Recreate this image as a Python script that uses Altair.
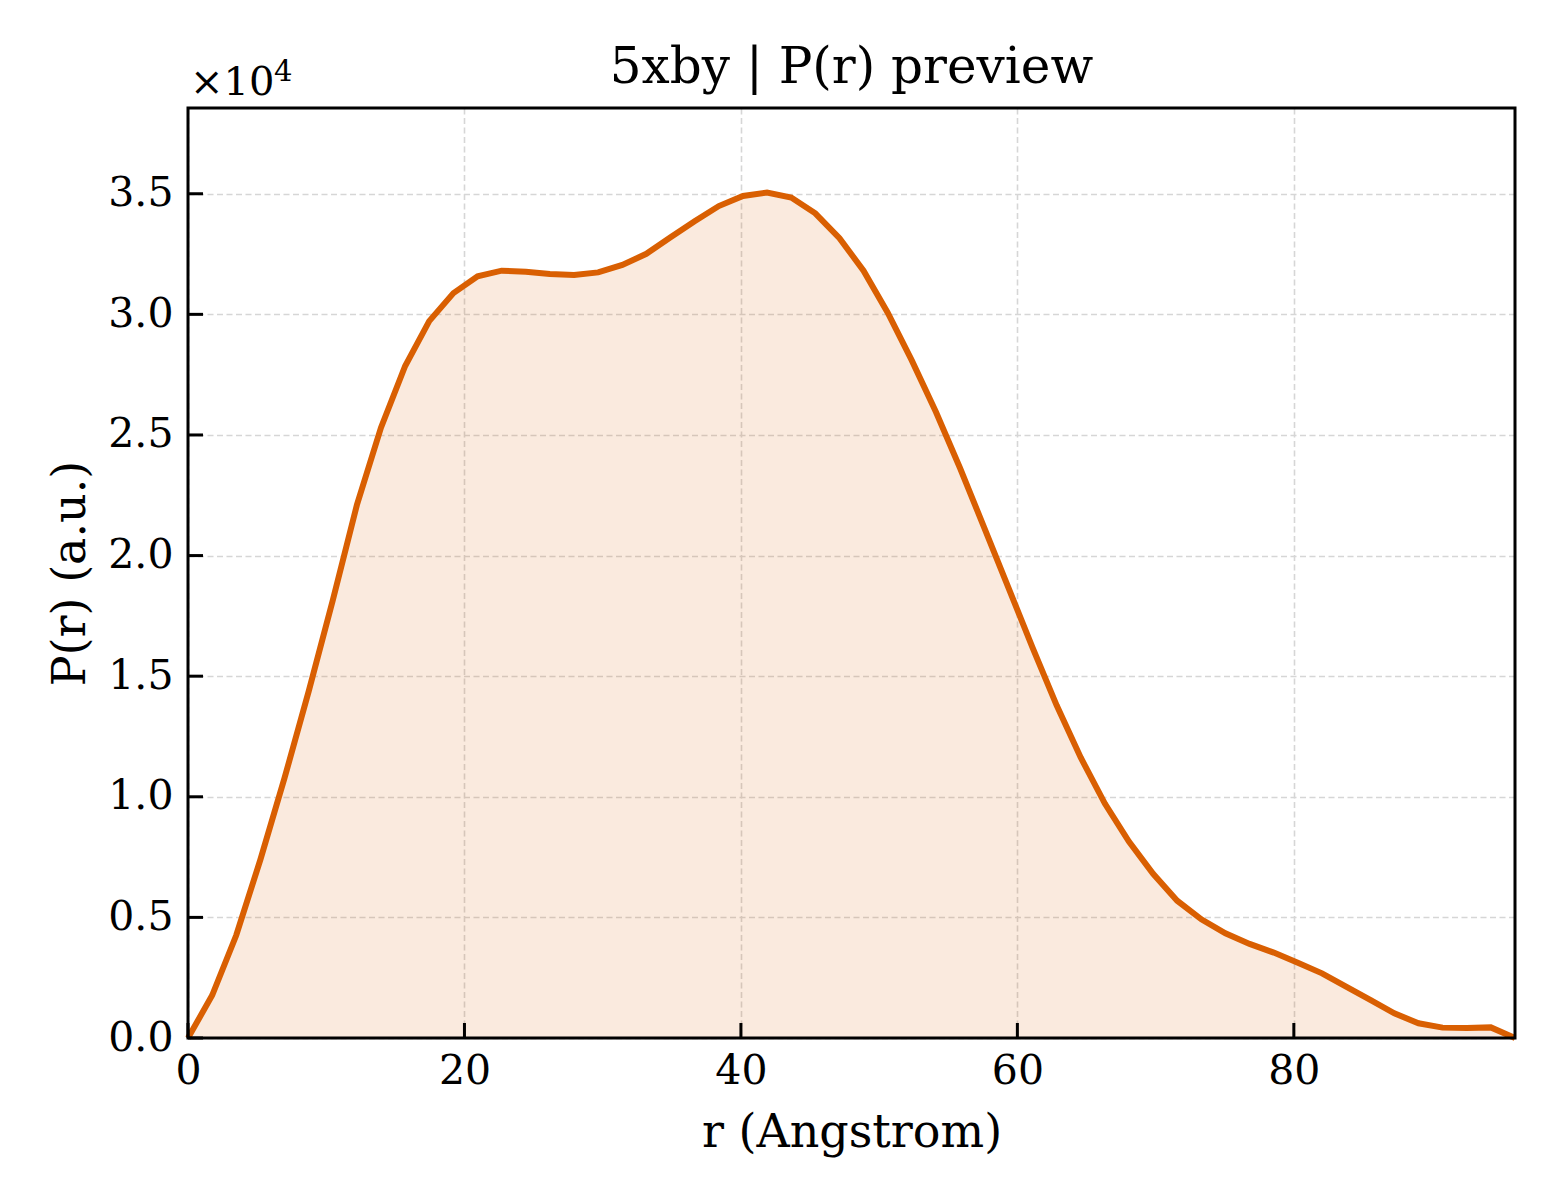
import altair as alt
import pandas as pd

r_vals = [0.0, 1.75, 3.49, 5.24, 6.98, 8.73, 10.47, 12.22, 13.96, 15.71, 17.45, 19.2,
          20.95, 22.69, 24.44, 26.18, 27.93, 29.67, 31.42, 33.16, 34.91, 36.65, 38.4,
          40.15, 41.89, 43.64, 45.38, 47.13, 48.87, 50.62, 52.36, 54.11, 55.85, 57.6,
          59.35, 61.09, 62.84, 64.58, 66.33, 68.07, 69.82, 71.56, 73.31, 75.05, 76.8,
          78.55, 80.29, 82.04, 83.78, 85.53, 87.27, 89.02, 90.76, 92.51, 94.25, 96.0]
p_vals = [0.0, 0.177, 0.426, 0.74, 1.077, 1.437, 1.814, 2.21, 2.53, 2.786, 2.972, 3.088,
          3.158, 3.181, 3.177, 3.167, 3.163, 3.174, 3.205, 3.251, 3.32, 3.386, 3.449,
          3.491, 3.505, 3.484, 3.419, 3.316, 3.181, 3.007, 2.809, 2.595, 2.363, 2.116,
          1.867, 1.619, 1.379, 1.163, 0.972, 0.814, 0.681, 0.569, 0.492, 0.434, 0.390,
          0.354, 0.312, 0.268, 0.213, 0.158, 0.102, 0.061, 0.043, 0.041, 0.044, 0.0]
x_ticks = [0, 20, 40, 60, 80]
y_ticks = [0.0, 0.5, 1.0, 1.5, 2.0, 2.5, 3.0, 3.5]
x_max = 96.0
y_max = 3.8555
title_text = "5xby | P(r) preview"
x_title = "r (Angstrom)"
y_title = "P(r) (a.u.)"

FONT = "DejaVu Serif"
COLOR = "#D95F02"
W, H = 1327, 930

df = pd.DataFrame({"r": r_vals, "p": p_vals})
xt = pd.DataFrame({"x": x_ticks})
yt = pd.DataFrame({"y": y_ticks})
one = pd.DataFrame({"k": [0]})

xs = alt.Scale(domain=[0, x_max], nice=False, zero=False)
ys = alt.Scale(domain=[0, y_max], nice=False, zero=False)

common = dict(grid=True, gridDash=[6, 3.5], gridColor="#d6d6d6", gridWidth=1.6,
              tickSize=0, domain=False, labelFlush=False, labelOverlap=False,
              labelFont=FONT, labelFontSize=41, labelColor="black",
              titleFont=FONT, titleFontSize=46, titleFontWeight="normal",
              titleColor="black", titleBaseline="alphabetic", titleAlign="center")
x_axis = alt.Axis(values=x_ticks, title=x_title, format="d", labelPadding=13,
                  titleX=W / 2, titleY=108, **common)
y_axis = alt.Axis(values=y_ticks, title=y_title, format=".1f", labelPadding=15,
                  titleX=-104, titleY=H / 2, titleAngle=270, **common)

base = alt.Chart(df)
area = base.mark_area(color=COLOR, opacity=0.13).encode(
    x=alt.X("r:Q", scale=xs, axis=x_axis),
    y=alt.Y("p:Q", scale=ys, axis=y_axis),
)
line = base.mark_line(color=COLOR, strokeWidth=6, strokeJoin="miter").encode(
    x=alt.X("r:Q", scale=xs),
    y=alt.Y("p:Q", scale=ys),
)
xtick = alt.Chart(xt).mark_rule(color="black", strokeWidth=3).encode(
    x=alt.X("x:Q", scale=xs), y=alt.value(H), y2=alt.value(H - 15)
)
ytick = alt.Chart(yt).mark_rule(color="black", strokeWidth=3).encode(
    y=alt.Y("y:Q", scale=ys), x=alt.value(0), x2=alt.value(15)
)
frame = alt.Chart(one).mark_rect(fill=None, fillOpacity=0, stroke="black",
                                 strokeWidth=3).encode(
    x=alt.value(0), x2=alt.value(W), y=alt.value(0), y2=alt.value(H)
)
mult = alt.Chart(pd.DataFrame({"t": ["×10"]})).mark_text(
    font=FONT, fontSize=40, align="left", baseline="alphabetic", color="black"
).encode(text="t:N", x=alt.value(2), y=alt.value(-13))
expo = alt.Chart(pd.DataFrame({"t": ["4"]})).mark_text(
    font=FONT, fontSize=29, align="left", baseline="alphabetic", color="black"
).encode(text="t:N", x=alt.value(86), y=alt.value(-27))
title = alt.Chart(pd.DataFrame({"t": [title_text]})).mark_text(
    font=FONT, fontSize=50, align="center", baseline="alphabetic", color="black"
).encode(text="t:N", x=alt.value(W / 2), y=alt.value(-25))

chart = alt.layer(area, line, xtick, ytick, frame, mult, expo, title).properties(
    width=W, height=H,
    autosize=alt.AutoSizeParams(type="none"),
    padding={"left": 180, "top": 100, "right": 37, "bottom": 154},
    background="white",
).configure_view(stroke=None)

chart.save("out.html", embed_options={"renderer": "svg", "actions": False})
